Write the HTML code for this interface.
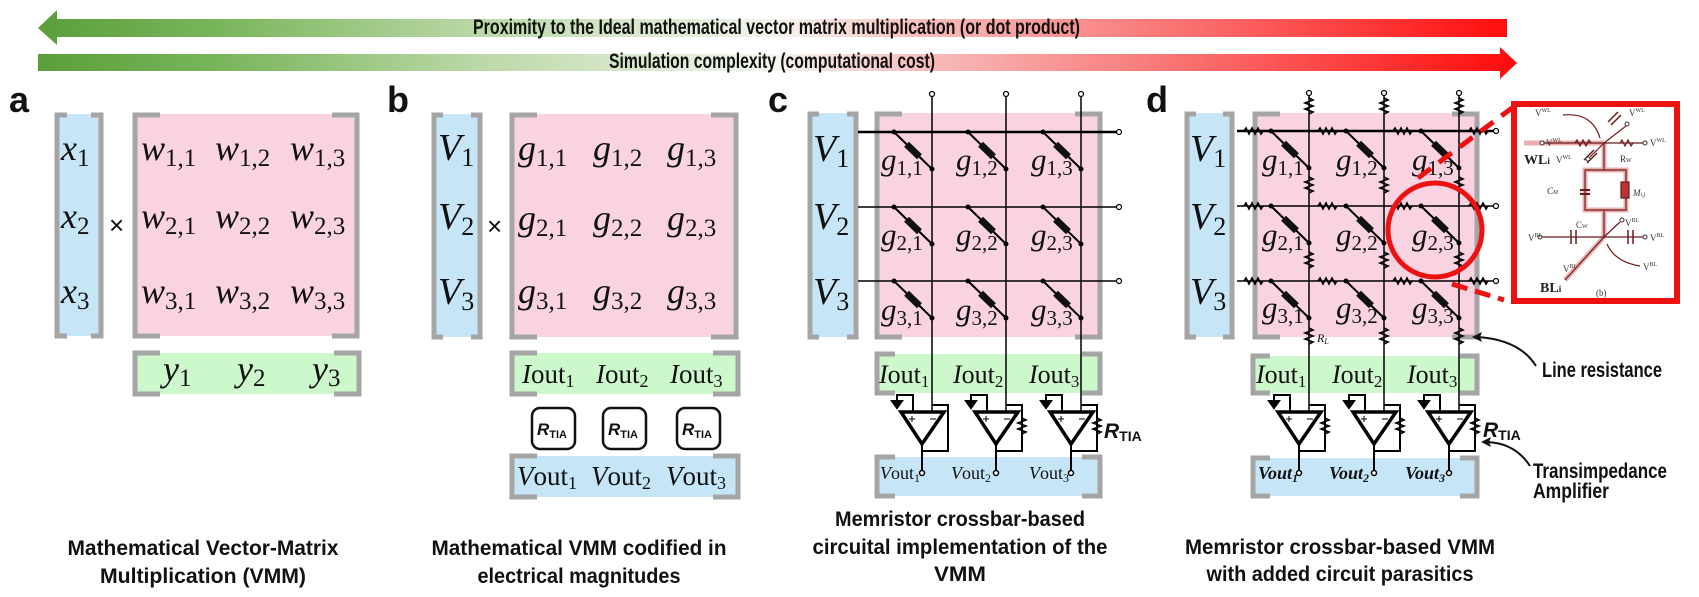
<!DOCTYPE html>
<html><head><meta charset="utf-8"><style>
html,body{margin:0;padding:0;background:#fff;}
svg{display:block;}
.m{font-family:"Liberation Serif",serif;font-style:italic;fill:#111;}
.r{font-style:normal;}
.cap{font-family:"Liberation Sans",sans-serif;font-weight:bold;fill:#111;font-size:21px;}
.lbl{font-family:"Liberation Sans",sans-serif;font-weight:bold;fill:#111;font-size:36px;}
.sm{font-family:"Liberation Serif",serif;fill:#333;font-size:9px;}
</style></head><body>
<svg width="1699" height="597" viewBox="0 0 1699 597" xmlns="http://www.w3.org/2000/svg">
<defs>
<linearGradient id="g1" x1="38" y1="0" x2="1517" y2="0" gradientUnits="userSpaceOnUse">
<stop offset="0" stop-color="#5b9e3c"/><stop offset="0.12" stop-color="#78b55a"/>
<stop offset="0.3" stop-color="#bcd8a8"/><stop offset="0.5" stop-color="#f3f6ee"/>
<stop offset="0.6" stop-color="#f8bcbc"/><stop offset="0.8" stop-color="#fb6666"/>
<stop offset="1" stop-color="#ff0a0a"/></linearGradient>
<g id="mem"><line x1="0" y1="0" x2="38" y2="37" stroke="#000" stroke-width="2"/>
<rect x="-9" y="-3.5" width="18" height="7" fill="#111" transform="translate(19,18.5) rotate(44)"/>
<circle cx="0" cy="0" r="2.5" fill="#000"/><circle cx="38" cy="37" r="2.5" fill="#000"/></g>
<path id="rv" d="M0,0 l4,2 l-8,3 l8,3 l-8,3 l8,3 l-4,2" fill="none" stroke="#000" stroke-width="1.6"/>
<path id="rh" d="M0,0 l2,-3 l3,6 l3,-6 l3,6 l3,-6 l3,6 l2,-3" fill="none" stroke="#000" stroke-width="1.6"/>
<g id="amp" fill="none" stroke="#000" stroke-width="2">
<path d="M-31,412 H12 L-10,444 Z" stroke-width="3.5"/>
<path d="M-10,444 V470"/><circle cx="-10" cy="473" r="2.5" fill="#fff" stroke-width="1.5"/>
<path d="M-35,402 V395 H-19 V412"/><path d="M-40,401 h10 l-5,7 z" fill="#000"/>
<path d="M0,405 H16 V451 H-10"/>
<path d="M-23,419 h6 M-20,416 v6 M-2,419 h6" stroke-width="1"/>
</g>
</defs>

<path d="M57,19 H1507 V37 H57 V45 L38,28 L57,10 Z" fill="url(#g1)"/>
<path d="M38,54 H1500 V47 L1517,63 L1500,79 V71 H38 Z" fill="url(#g1)"/>
<text x="473" y="34" class="cap" font-size="17" textLength="607" lengthAdjust="spacingAndGlyphs">Proximity to the Ideal mathematical vector matrix multiplication (or dot product)</text>
<text x="609" y="68" class="cap" font-size="17" textLength="326" lengthAdjust="spacingAndGlyphs">Simulation complexity (computational cost)</text>

<text x="9" y="112" class="lbl">a</text>
<text x="387" y="112" class="lbl">b</text>
<text x="768" y="112" class="lbl">c</text>
<text x="1146" y="112" class="lbl">d</text>

<!-- PANEL A -->
<rect x="56" y="114" width="46" height="222" fill="#c6e6f8"/>
<rect x="134" y="114" width="223" height="222" fill="#f9d3e2"/>
<rect x="134" y="353" width="225" height="41" fill="#ccf8cc"/>
<g fill="none" stroke="#a5a5a5" stroke-width="5">
<path d="M67,115 H57 V336 H67 M91,115 H101 V336 H91"/>
<path d="M160,115 H135 V336 H160 M332,115 H357 V336 H332"/>
<path d="M160,353 H135 V394 H160 M334,353 H359 V394 H334"/>
</g>
<g class="m" font-size="36">
<text x="61" y="160">x<tspan class="r" font-size="25" dy="6">1</tspan></text>
<text x="61" y="228">x<tspan class="r" font-size="25" dy="6">2</tspan></text>
<text x="61" y="303">x<tspan class="r" font-size="25" dy="6">3</tspan></text>
<text x="141" y="160">w<tspan class="r" font-size="25" dy="6">1,1</tspan></text>
<text x="215" y="160">w<tspan class="r" font-size="25" dy="6">1,2</tspan></text>
<text x="290" y="160">w<tspan class="r" font-size="25" dy="6">1,3</tspan></text>
<text x="141" y="228">w<tspan class="r" font-size="25" dy="6">2,1</tspan></text>
<text x="215" y="228">w<tspan class="r" font-size="25" dy="6">2,2</tspan></text>
<text x="290" y="228">w<tspan class="r" font-size="25" dy="6">2,3</tspan></text>
<text x="141" y="303">w<tspan class="r" font-size="25" dy="6">3,1</tspan></text>
<text x="215" y="303">w<tspan class="r" font-size="25" dy="6">3,2</tspan></text>
<text x="290" y="303">w<tspan class="r" font-size="25" dy="6">3,3</tspan></text>
<text x="163" y="381">y<tspan class="r" font-size="25" dy="5">1</tspan></text>
<text x="237" y="381">y<tspan class="r" font-size="25" dy="5">2</tspan></text>
<text x="312" y="381">y<tspan class="r" font-size="25" dy="5">3</tspan></text>
</g>
<text x="109" y="234" font-family="Liberation Sans,sans-serif" font-size="26" fill="#111">×</text>

<!-- PANEL B -->
<rect x="433" y="114" width="48" height="223" fill="#c6e6f8"/>
<rect x="511" y="114" width="226" height="223" fill="#f9d3e2"/>
<rect x="511" y="353" width="228" height="41" fill="#ccf8cc"/>
<rect x="511" y="456" width="228" height="41" fill="#c6e6f8"/>
<g fill="none" stroke="#a5a5a5" stroke-width="5">
<path d="M443,115 H434 V337 H443 M471,115 H480 V337 H471"/>
<path d="M537,115 H512 V337 H537 M711,115 H736 V337 H711"/>
<path d="M537,353 H512 V394 H537 M713,353 H738 V394 H713"/>
<path d="M537,456 H512 V497 H537 M713,456 H738 V497 H713"/>
</g>
<g class="m" font-size="38">
<text x="438" y="160">V<tspan class="r" font-size="26" dy="6">1</tspan></text>
<text x="438" y="229">V<tspan class="r" font-size="26" dy="6">2</tspan></text>
<text x="438" y="304">V<tspan class="r" font-size="26" dy="6">3</tspan></text>
</g>
<g class="m" font-size="36">
<text x="518" y="160">g<tspan class="r" font-size="25" dy="6">1,1</tspan></text>
<text x="593" y="160">g<tspan class="r" font-size="25" dy="6">1,2</tspan></text>
<text x="667" y="160">g<tspan class="r" font-size="25" dy="6">1,3</tspan></text>
<text x="518" y="230">g<tspan class="r" font-size="25" dy="6">2,1</tspan></text>
<text x="593" y="230">g<tspan class="r" font-size="25" dy="6">2,2</tspan></text>
<text x="667" y="230">g<tspan class="r" font-size="25" dy="6">2,3</tspan></text>
<text x="518" y="303">g<tspan class="r" font-size="25" dy="6">3,1</tspan></text>
<text x="593" y="303">g<tspan class="r" font-size="25" dy="6">3,2</tspan></text>
<text x="667" y="303">g<tspan class="r" font-size="25" dy="6">3,3</tspan></text>
</g>
<g class="m" font-size="27">
<text x="522" y="383">I<tspan class="r">out</tspan><tspan class="r" font-size="18" dy="4">1</tspan></text>
<text x="596" y="383">I<tspan class="r">out</tspan><tspan class="r" font-size="18" dy="4">2</tspan></text>
<text x="670" y="383">I<tspan class="r">out</tspan><tspan class="r" font-size="18" dy="4">3</tspan></text>
<text x="517" y="485">V<tspan class="r">out</tspan><tspan class="r" font-size="18" dy="4">1</tspan></text>
<text x="591" y="485">V<tspan class="r">out</tspan><tspan class="r" font-size="18" dy="4">2</tspan></text>
<text x="666" y="485">V<tspan class="r">out</tspan><tspan class="r" font-size="18" dy="4">3</tspan></text>
</g>
<text x="487" y="235" font-family="Liberation Sans,sans-serif" font-size="26" fill="#111">×</text>
<g fill="#fff" stroke="#111" stroke-width="2.5">
<rect x="532" y="408" width="43" height="41" rx="8"/>
<rect x="603" y="408" width="43" height="41" rx="8"/>
<rect x="677" y="408" width="43" height="41" rx="8"/>
</g>
<g font-family="Liberation Sans,sans-serif" font-weight="bold" fill="#111">
<text x="537" y="435" font-size="17" font-style="italic">R<tspan font-size="11" font-style="normal" dy="3">TIA</tspan></text>
<text x="608" y="435" font-size="17" font-style="italic">R<tspan font-size="11" font-style="normal" dy="3">TIA</tspan></text>
<text x="682" y="435" font-size="17" font-style="italic">R<tspan font-size="11" font-style="normal" dy="3">TIA</tspan></text>
</g>

<!-- PANEL C -->
<rect x="809" y="113" width="48" height="224" fill="#c6e6f8"/>
<rect x="876" y="113" width="225" height="224" fill="#f9d3e2"/>
<rect x="876" y="354" width="225" height="39" fill="#ccf8cc"/>
<rect x="876" y="457" width="225" height="39" fill="#c6e6f8"/>
<g fill="none" stroke="#a5a5a5" stroke-width="5">
<path d="M819,114 H810 V337 H819 M847,114 H856 V337 H847"/>
<path d="M902,114 H877 V337 H902 M1075,114 H1100 V337 H1075"/>
<path d="M895,354 H877 V393 H895 M1082,354 H1100 V393 H1082"/>
<path d="M895,457 H877 V496 H895 M1082,457 H1100 V496 H1082"/>
</g>
<g stroke="#000" fill="none">
<path d="M858,132 H1116" stroke-width="2.6"/>
<path d="M858,207 H1116 M858,281 H1116" stroke-width="1.5"/>
<path d="M932,97 V412 M1006,97 V412 M1081,97 V412" stroke-width="1.5"/>
</g>
<g fill="#fff" stroke="#000" stroke-width="1.2">
<circle cx="1119" cy="132" r="2.5"/><circle cx="1119" cy="207" r="2.5"/><circle cx="1119" cy="281" r="2.5"/>
<circle cx="932" cy="94" r="2.5"/><circle cx="1006" cy="94" r="2.5"/><circle cx="1081" cy="94" r="2.5"/>
</g>
<use href="#mem" x="894" y="132"/><use href="#mem" x="968" y="132"/><use href="#mem" x="1043" y="132"/>
<use href="#mem" x="894" y="207"/><use href="#mem" x="968" y="207"/><use href="#mem" x="1043" y="207"/>
<use href="#mem" x="894" y="281"/><use href="#mem" x="968" y="281"/><use href="#mem" x="1043" y="281"/>
<g class="m" font-size="38">
<text x="813" y="161">V<tspan class="r" font-size="26" dy="6">1</tspan></text>
<text x="813" y="229">V<tspan class="r" font-size="26" dy="6">2</tspan></text>
<text x="813" y="304">V<tspan class="r" font-size="26" dy="6">3</tspan></text>
</g>
<g class="m" font-size="31">
<text x="881" y="170">g<tspan class="r" font-size="21" dy="5">1,1</tspan></text>
<text x="956" y="170">g<tspan class="r" font-size="21" dy="5">1,2</tspan></text>
<text x="1031" y="170">g<tspan class="r" font-size="21" dy="5">1,3</tspan></text>
<text x="881" y="245">g<tspan class="r" font-size="21" dy="5">2,1</tspan></text>
<text x="956" y="245">g<tspan class="r" font-size="21" dy="5">2,2</tspan></text>
<text x="1031" y="245">g<tspan class="r" font-size="21" dy="5">2,3</tspan></text>
<text x="881" y="320">g<tspan class="r" font-size="21" dy="5">3,1</tspan></text>
<text x="956" y="320">g<tspan class="r" font-size="21" dy="5">3,2</tspan></text>
<text x="1031" y="320">g<tspan class="r" font-size="21" dy="5">3,3</tspan></text>
</g>
<g class="m" font-size="26">
<text x="879" y="383">I<tspan class="r">out</tspan><tspan class="r" font-size="17" dy="4">1</tspan></text>
<text x="953" y="383">I<tspan class="r">out</tspan><tspan class="r" font-size="17" dy="4">2</tspan></text>
<text x="1029" y="383">I<tspan class="r">out</tspan><tspan class="r" font-size="17" dy="4">3</tspan></text>
</g>
<g class="m" font-size="18">
<text x="880" y="479">V<tspan class="r">out</tspan><tspan class="r" font-size="12" dy="3">1</tspan></text>
<text x="951" y="479">V<tspan class="r">out</tspan><tspan class="r" font-size="12" dy="3">2</tspan></text>
<text x="1029" y="479">V<tspan class="r">out</tspan><tspan class="r" font-size="12" dy="3">3</tspan></text>
</g>
<use href="#amp" x="932"/><use href="#amp" x="1006"/><use href="#amp" x="1081"/>
<use href="#rv" x="1022" y="418"/><use href="#rv" x="1097" y="418"/>
<text x="1104" y="438" font-family="Liberation Sans,sans-serif" font-weight="bold" font-style="italic" font-size="21" fill="#111">R<tspan font-size="14" font-style="normal" dy="3">TIA</tspan></text>

<!-- PANEL D -->
<rect x="1186" y="113" width="47" height="224" fill="#c6e6f8"/>
<rect x="1254" y="113" width="224" height="224" fill="#f9d3e2"/>
<rect x="1252" y="356" width="226" height="37" fill="#ccf8cc"/>
<rect x="1252" y="458" width="226" height="38" fill="#c6e6f8"/>
<g fill="none" stroke="#a5a5a5" stroke-width="5">
<path d="M1196,114 H1187 V337 H1196 M1223,114 H1232 V337 H1223"/>
<path d="M1280,114 H1255 V337 H1280 M1452,114 H1477 V337 H1452"/>
<path d="M1270,356 H1253 V393 H1270 M1460,356 H1477 V393 H1460"/>
<path d="M1270,458 H1253 V496 H1270 M1460,458 H1477 V496 H1460"/>
</g>
<g stroke="#000" fill="none">
<path d="M1237,131 H1493" stroke-width="2.6"/>
<path d="M1237,206 H1493 M1237,281 H1493" stroke-width="1.5"/>
<path d="M1309,96 V412 M1384,96 V412 M1459,96 V412" stroke-width="1.5"/>
</g>
<g fill="#fff" stroke="#000" stroke-width="1.2">
<circle cx="1496" cy="131" r="2.5"/><circle cx="1496" cy="206" r="2.5"/><circle cx="1496" cy="281" r="2.5"/>
<circle cx="1309" cy="93" r="2.5"/><circle cx="1384" cy="93" r="2.5"/><circle cx="1459" cy="93" r="2.5"/>
</g>
<g>
<use href="#rh" x="1244" y="131"/><use href="#rh" x="1318" y="131"/><use href="#rh" x="1393" y="131"/><use href="#rh" x="1469" y="131"/>
<use href="#rh" x="1244" y="206"/><use href="#rh" x="1318" y="206"/><use href="#rh" x="1393" y="206"/><use href="#rh" x="1469" y="206"/>
<use href="#rh" x="1244" y="281"/><use href="#rh" x="1318" y="281"/><use href="#rh" x="1393" y="281"/><use href="#rh" x="1469" y="281"/>
<use href="#rv" x="1309" y="98"/><use href="#rv" x="1384" y="98"/><use href="#rv" x="1459" y="98"/>
<use href="#rv" x="1309" y="177"/><use href="#rv" x="1384" y="177"/><use href="#rv" x="1459" y="177"/>
<use href="#rv" x="1309" y="252"/><use href="#rv" x="1384" y="252"/><use href="#rv" x="1459" y="252"/>
<use href="#rv" x="1309" y="328"/><use href="#rv" x="1384" y="328"/><use href="#rv" x="1459" y="328"/>
</g>
<use href="#mem" x="1271" y="131"/><use href="#mem" x="1346" y="131"/><use href="#mem" x="1421" y="131"/>
<use href="#mem" x="1271" y="206"/><use href="#mem" x="1346" y="206"/><use href="#mem" x="1421" y="206"/>
<use href="#mem" x="1271" y="281"/><use href="#mem" x="1346" y="281"/><use href="#mem" x="1421" y="281"/>
<g class="m" font-size="38">
<text x="1190" y="161">V<tspan class="r" font-size="26" dy="6">1</tspan></text>
<text x="1190" y="229">V<tspan class="r" font-size="26" dy="6">2</tspan></text>
<text x="1190" y="304">V<tspan class="r" font-size="26" dy="6">3</tspan></text>
</g>
<g class="m" font-size="31">
<text x="1262" y="170">g<tspan class="r" font-size="21" dy="5">1,1</tspan></text>
<text x="1336" y="170">g<tspan class="r" font-size="21" dy="5">1,2</tspan></text>
<text x="1412" y="170">g<tspan class="r" font-size="21" dy="5">1,3</tspan></text>
<text x="1262" y="245">g<tspan class="r" font-size="21" dy="5">2,1</tspan></text>
<text x="1336" y="245">g<tspan class="r" font-size="21" dy="5">2,2</tspan></text>
<text x="1412" y="245">g<tspan class="r" font-size="21" dy="5">2,3</tspan></text>
<text x="1262" y="318">g<tspan class="r" font-size="21" dy="5">3,1</tspan></text>
<text x="1336" y="318">g<tspan class="r" font-size="21" dy="5">3,2</tspan></text>
<text x="1412" y="318">g<tspan class="r" font-size="21" dy="5">3,3</tspan></text>
</g>
<text x="1317" y="342" class="m" font-size="12">R<tspan font-size="8" dy="2">L</tspan></text>
<g class="m" font-size="26">
<text x="1256" y="383">I<tspan class="r">out</tspan><tspan class="r" font-size="17" dy="4">1</tspan></text>
<text x="1332" y="383">I<tspan class="r">out</tspan><tspan class="r" font-size="17" dy="4">2</tspan></text>
<text x="1407" y="383">I<tspan class="r">out</tspan><tspan class="r" font-size="17" dy="4">3</tspan></text>
</g>
<g class="m" font-size="18" font-weight="bold">
<text x="1258" y="479">V<tspan>out</tspan><tspan font-size="12" dy="3">1</tspan></text>
<text x="1329" y="479">V<tspan>out</tspan><tspan font-size="12" dy="3">2</tspan></text>
<text x="1405" y="479">V<tspan>out</tspan><tspan font-size="12" dy="3">3</tspan></text>
</g>
<use href="#amp" x="1309"/><use href="#amp" x="1384"/><use href="#amp" x="1459"/>
<use href="#rv" x="1325" y="418"/><use href="#rv" x="1400" y="418"/><use href="#rv" x="1475" y="418"/>
<text x="1483" y="437" font-family="Liberation Sans,sans-serif" font-weight="bold" font-style="italic" font-size="21" fill="#111">R<tspan font-size="14" font-style="normal" dy="3">TIA</tspan></text>

<circle cx="1435" cy="230" r="47" fill="none" stroke="#ee1111" stroke-width="5"/>
<path d="M1418,178 L1512,108" stroke="#ee1111" stroke-width="5" stroke-dasharray="16,10" fill="none"/>
<path d="M1452,284 L1504,300" stroke="#ee1111" stroke-width="5" stroke-dasharray="16,8" fill="none"/>

<rect x="1514" y="104" width="163" height="197" fill="#fff" stroke="#ee1111" stroke-width="6"/>
<g fill="none">
<path d="M1524,143 H1604 M1604,143 V170 M1604,210 V237 M1604,237 L1565,280" stroke="#eab0b0" stroke-width="5"/>
<rect x="1585" y="170" width="41" height="40" stroke="#eab0b0" stroke-width="5"/>
<g stroke="#6b1a1a" stroke-width="1.2">
<path d="M1540,143 H1604 V170 M1585,170 H1626 V210 H1585 Z M1604,210 V237 L1565,280"/>
<path d="M1604,143 L1626,126 M1604,143 L1590,157 M1604,143 H1643 M1540,237 H1643 M1604,237 L1620,222"/>
<path d="M1580,190 h10 M1580,194 h10" stroke-width="2"/>
<rect x="1621" y="182" width="8" height="16" fill="#b33"/>
<path d="M1571,230 v14 M1576,230 v14 M1628,230 v14 M1633,230 v14" stroke-width="1.5"/>
<path d="M1608,122 l10,-10 M1611,125 l10,-10 M1584,160 l10,-10 M1587,163 l10,-10" stroke-width="1.5"/>
<path d="M1575,143 l2,-3 l3,6 l3,-6 l3,6 l3,-6 l2,3 M1620,143 l2,-3 l3,6 l3,-6 l3,6 l2,-3"/>
<path d="M1563,115 Q1592,112 1600,138 M1640,266 Q1615,262 1607,244"/>
</g>
<g fill="#fff" stroke="#333" stroke-width="1"><circle cx="1542" cy="143" r="2"/><circle cx="1645" cy="143" r="2"/><circle cx="1627" cy="124" r="2"/><circle cx="1588" cy="159" r="2"/><circle cx="1540" cy="237" r="2"/><circle cx="1645" cy="237" r="2"/><circle cx="1622" cy="220" r="2"/></g>
</g>
<g class="sm">
<text x="1535" y="116">V<tspan font-size="6" dy="-4">WL</tspan></text>
<text x="1629" y="116">V<tspan font-size="6" dy="-4">WL</tspan></text>
<text x="1546" y="146">V<tspan font-size="6" dy="-4">WL</tspan></text>
<text x="1650" y="146">V<tspan font-size="6" dy="-4">WL</tspan></text>
<text x="1524" y="164" font-size="14" font-weight="bold" fill="#222">WL<tspan font-size="9">i</tspan></text>
<text x="1556" y="163">V<tspan font-size="6" dy="-4">WL</tspan></text>
<text x="1620" y="162">R<tspan font-size="6">W</tspan></text>
<text x="1547" y="194" font-style="italic">C<tspan font-size="6">M</tspan></text>
<text x="1633" y="196" font-style="italic">M<tspan font-size="6">i,j</tspan></text>
<text x="1576" y="228">C<tspan font-size="6">W</tspan></text>
<text x="1625" y="226">V<tspan font-size="6" dy="-4">BL</tspan></text>
<text x="1528" y="241">V<tspan font-size="6" dy="-4">BL</tspan></text>
<text x="1650" y="241">V<tspan font-size="6" dy="-4">BL</tspan></text>
<text x="1643" y="270">V<tspan font-size="6" dy="-4">BL</tspan></text>
<text x="1563" y="272">V<tspan font-size="6" dy="-4">BL</tspan></text>
<text x="1540" y="292" font-size="14" font-weight="bold" fill="#222">BL<tspan font-size="9">i</tspan></text>
<text x="1596" y="296">(b)</text>
</g>

<g fill="none" stroke="#111" stroke-width="2">
<path d="M1536,366 Q1520,340 1478,337"/>
<path d="M1530,466 Q1515,443 1487,442"/>
</g>
<path d="M1472,337 l10,-5 l-2,5 l2,5 z" fill="#111"/>
<path d="M1481,442 l10,-5 l-2,5 l2,5 z" fill="#111"/>
<g class="cap" font-size="18">
<text x="1542" y="377" textLength="120" lengthAdjust="spacingAndGlyphs">Line resistance</text>
<text x="1533" y="478" textLength="134" lengthAdjust="spacingAndGlyphs">Transimpedance</text>
<text x="1533" y="498" textLength="76" lengthAdjust="spacingAndGlyphs">Amplifier</text>
</g>

<g class="cap" text-anchor="middle">
<text x="203" y="555" textLength="271" lengthAdjust="spacingAndGlyphs">Mathematical Vector-Matrix</text>
<text x="203" y="583" textLength="206" lengthAdjust="spacingAndGlyphs">Multiplication (VMM)</text>
<text x="579" y="555" textLength="295" lengthAdjust="spacingAndGlyphs">Mathematical VMM codified in</text>
<text x="579" y="583" textLength="203" lengthAdjust="spacingAndGlyphs">electrical magnitudes</text>
<text x="960" y="526" textLength="250" lengthAdjust="spacingAndGlyphs">Memristor crossbar-based</text>
<text x="960" y="554" textLength="295" lengthAdjust="spacingAndGlyphs">circuital implementation of the</text>
<text x="960" y="581" textLength="52" lengthAdjust="spacingAndGlyphs">VMM</text>
<text x="1340" y="554" textLength="310" lengthAdjust="spacingAndGlyphs">Memristor crossbar-based VMM</text>
<text x="1340" y="581" textLength="267" lengthAdjust="spacingAndGlyphs">with added circuit parasitics</text>
</g>
</svg>
</body></html>
